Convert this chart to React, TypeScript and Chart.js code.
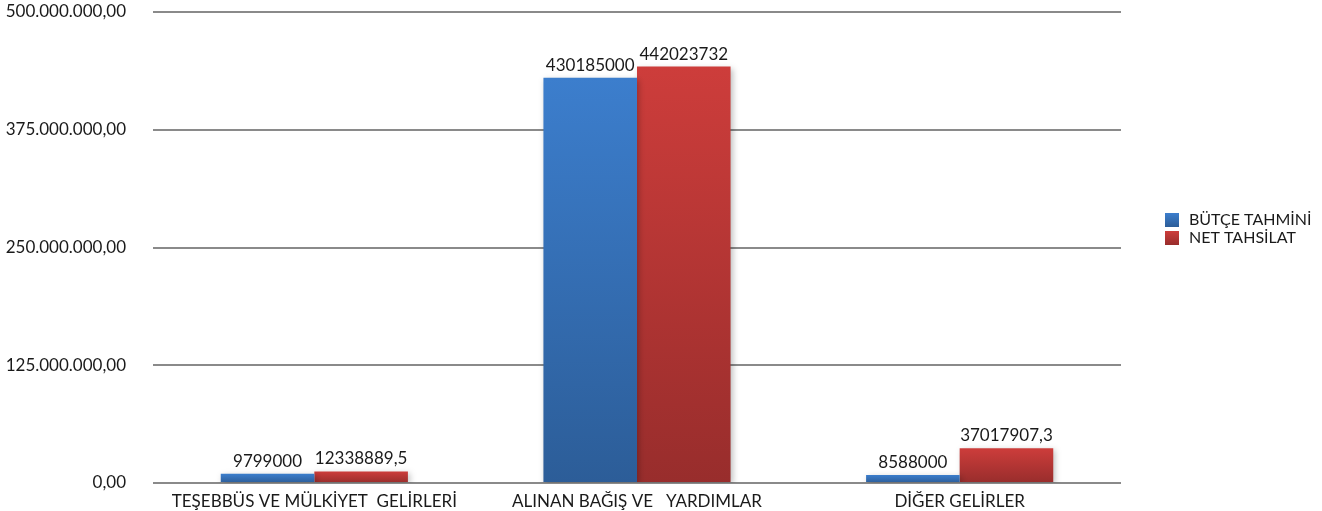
import React, { useEffect, useRef } from "react";
import { Chart, registerables } from "chart.js";

Chart.register(...registerables);

const categories = [
  "TEŞEBBÜS VE MÜLKİYET  GELİRLERİ",
  "ALINAN BAĞIŞ VE   YARDIMLAR",
  "DİĞER GELİRLER",
];
const seriesNames = ["BÜTÇE TAHMİNİ", "NET TAHSİLAT"];
const butceTahmini = [9799000, 430185000, 8588000];
const netTahsilat = [12338889.5, 442023732, 37017907.3];
const yTicks = [0, 125000000, 250000000, 375000000, 500000000];

const FONT = "Lato, Carlito, 'Noto Sans', sans-serif";
const colorsTop = ["#3c7ecd", "#cd3d3b"];
const colorsBottom = ["#2c5d98", "#982d2c"];

function fmtTick(v: number): string {
  const s = Math.round(v).toString();
  const withDots = s.replace(/\B(?=(\d{3})+(?!\d))/g, ".");
  return withDots + ",00";
}
function fmtLabel(v: number): string {
  return String(v).replace(".", ",");
}

function barGradient(ctx: any) {
  const chart = ctx.chart;
  const di = ctx.datasetIndex;
  if (!chart.chartArea || ctx.type !== "data") return colorsTop[di];
  const y = chart.scales.y;
  const v = ctx.raw as number;
  const top = y.getPixelForValue(v);
  const bottom = y.getPixelForValue(0);
  const g = chart.ctx.createLinearGradient(0, top, 0, Math.max(bottom, top + 1));
  g.addColorStop(0, colorsTop[di]);
  g.addColorStop(1, colorsBottom[di]);
  return g;
}

const shadowPlugin = {
  id: "barShadow",
  beforeDatasetsDraw(chart: any) {
    const c = chart.ctx;
    c.save();
    c.shadowColor = "rgba(0,0,0,0.25)";
    c.shadowBlur = 6;
    c.shadowOffsetX = 2;
    c.shadowOffsetY = 2;
  },
  afterDatasetsDraw(chart: any) {
    chart.ctx.restore();
  },
};

const labelsPlugin = {
  id: "valueLabels",
  afterDatasetsDraw(chart: any) {
    const c = chart.ctx;
    c.save();
    c.font = `17px ${FONT}`;
    c.fillStyle = "#1a1a1a";
    c.textAlign = "center";
    c.textBaseline = "bottom";
    chart.data.datasets.forEach((ds: any, di: number) => {
      const meta = chart.getDatasetMeta(di);
      meta.data.forEach((bar: any, i: number) => {
        c.fillText(fmtLabel(ds.data[i]), bar.x, bar.y - 4);
      });
    });
    c.restore();
  },
};

const legendPlugin = {
  id: "customLegend",
  afterDraw(chart: any) {
    const c = chart.ctx;
    c.save();
    c.font = `16px ${FONT}`;
    c.textBaseline = "middle";
    c.textAlign = "left";
    chart.data.datasets.forEach((ds: any, di: number) => {
      const x = 1165;
      const y = 213 + di * 18;
      const g = c.createLinearGradient(0, y, 0, y + 14);
      g.addColorStop(0, colorsTop[di]);
      g.addColorStop(1, colorsBottom[di]);
      c.fillStyle = g;
      c.fillRect(x, y, 14, 14);
      c.fillStyle = "#1a1a1a";
      c.fillText(ds.label, 1189, y + 7);
    });
    c.restore();
  },
};

export default function App() {
  const ref = useRef<HTMLCanvasElement | null>(null);
  useEffect(() => {
    if (!ref.current) return;
    const chart = new Chart(ref.current, {
      type: "bar",
      data: {
        labels: categories,
        datasets: [
          { label: seriesNames[0], data: butceTahmini, backgroundColor: barGradient },
          { label: seriesNames[1], data: netTahsilat, backgroundColor: barGradient },
        ],
      },
      options: {
        animation: false,
        responsive: false,
        devicePixelRatio: 1,
        layout: { padding: { top: 12, right: 201, left: 0, bottom: 0 } },
        datasets: {
          bar: { categoryPercentage: 0.58, barPercentage: 1 },
        },
        plugins: {
          legend: { display: false },
          tooltip: { enabled: false },
        },
        scales: {
          x: {
            grid: { display: false },
            border: { display: false },
            ticks: {
              color: "#1a1a1a",
              font: { family: FONT, size: 17 },
              padding: 0,
              maxRotation: 0,
              autoSkip: false,
            },
            afterFit(scale: any) {
              scale.height = 28;
              scale.paddingLeft = 0;
              scale.paddingRight = 0;
            },
          },
          y: {
            min: 0,
            max: 500000000,
            afterBuildTicks(scale: any) {
              scale.ticks = yTicks.map((v) => ({ value: v }));
            },
            grid: { color: "#8a8a8a", lineWidth: 2, drawTicks: false },
            border: { display: false },
            ticks: {
              color: "#1a1a1a",
              font: { family: FONT, size: 17 },
              padding: 27,
              callback: (v: any) => fmtTick(Number(v)),
            },
            afterFit(scale: any) {
              scale.width = 153;
              scale.paddingTop = 0;
              scale.paddingBottom = 0;
            },
          },
        },
      },
      plugins: [shadowPlugin, labelsPlugin, legendPlugin],
    });
    return () => chart.destroy();
  }, []);
  return (
    <div style={{ position: "fixed", left: 0, top: 0, width: 1322, height: 511, background: "#fff" }}>
      <canvas ref={ref} width={1322} height={511} style={{ width: 1322, height: 511 }} />
    </div>
  );
}
